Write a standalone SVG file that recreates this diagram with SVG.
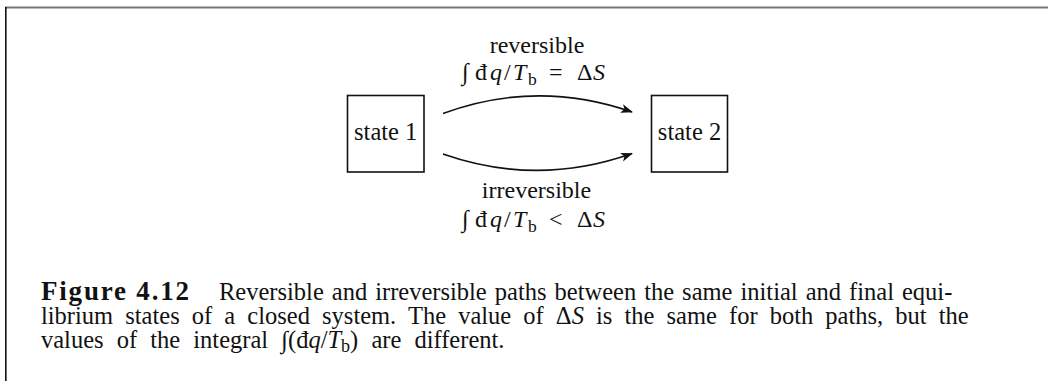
<svg xmlns="http://www.w3.org/2000/svg" width="1048" height="381" viewBox="0 0 1048 381">
<style>
.t{font-family:"Liberation Serif","Times New Roman",serif;fill:#111;}
.lbl{font-size:24px;}
.st{font-size:24.5px;}
.cap{font-size:24.5px;}
.it{font-style:italic;}
.box{fill:#fff;stroke:#111;stroke-width:1.6;}
.conn{fill:none;stroke:#111;stroke-width:1.7;}
</style>
<defs>
<marker id="ah" viewBox="0 0 12 10" refX="11" refY="5" markerWidth="12" markerHeight="10" markerUnits="userSpaceOnUse" orient="auto">
<path d="M0,0.5 L12,5 L0,9.5 L3,5 Z" fill="#111"/>
</marker>
</defs>
<rect x="0" y="0" width="1048" height="381" fill="#fff"/>
<g id="frame">
<line x1="5" y1="7.5" x2="1048" y2="7.5" stroke="#777" stroke-width="2"/>
<line x1="5.8" y1="7" x2="5.8" y2="381" stroke="#111" stroke-width="1.6"/>
</g>
<g id="state1">
<rect class="box" x="347.5" y="95.5" width="76.5" height="76.5"/>
<text class="t st" x="385.7" y="140" text-anchor="middle">state 1</text>
</g>
<g id="state2">
<rect class="box" x="651.5" y="95.5" width="76" height="76.5"/>
<text class="t st" x="689.5" y="140" text-anchor="middle">state 2</text>
</g>
<g id="connectors">
<path class="conn" d="M443,113.5 Q537,79 632,112" marker-end="url(#ah)"/>
<path class="conn" d="M443,154 Q537,187 632,153.5" marker-end="url(#ah)"/>
</g>
<g id="label-reversible">
<text class="t lbl" x="537" y="53" text-anchor="middle">reversible</text>
<text class="t lbl" y="80"><tspan x="462" class="it">∫</tspan><tspan x="475">đ</tspan><tspan x="490" class="it">q</tspan><tspan x="504">/</tspan><tspan x="513" class="it">T</tspan><tspan x="528" y="85" font-size="17.5">b</tspan><tspan x="549" y="80">=</tspan><tspan x="577">Δ</tspan><tspan x="593" class="it">S</tspan></text>
</g>
<g id="label-irreversible">
<text class="t lbl" x="536.5" y="198" text-anchor="middle">irreversible</text>
<text class="t lbl" y="227"><tspan x="462" class="it">∫</tspan><tspan x="475">đ</tspan><tspan x="490" class="it">q</tspan><tspan x="504">/</tspan><tspan x="513" class="it">T</tspan><tspan x="528" y="232" font-size="17.5">b</tspan><tspan x="549" y="227">&lt;</tspan><tspan x="577">Δ</tspan><tspan x="593" class="it">S</tspan></text>
</g>
<g id="caption">
<text class="t" x="41" y="300" font-weight="bold" font-size="27" textLength="148" lengthAdjust="spacing">Figure 4.12</text>
<text class="t cap" x="219" y="300" word-spacing="1.9">Reversible and irreversible paths between the same initial and final equi-</text>
<text class="t cap" x="41" y="324" word-spacing="6">librium states of a closed system. The value of Δ<tspan class="it">S</tspan> is the same for both paths, but the</text>
<text class="t cap" x="41" y="347.5" word-spacing="7">values of the integral <tspan class="it">∫</tspan>(đ<tspan class="it">q</tspan>/<tspan class="it">T</tspan><tspan dy="4" font-size="18">b</tspan><tspan dy="-4">)</tspan> are different.</text>
</g>
</svg>
